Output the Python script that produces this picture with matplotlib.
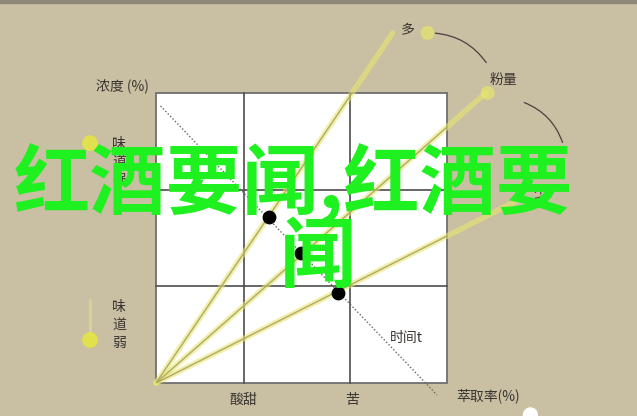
import matplotlib.pyplot as plt
from matplotlib.patches import Rectangle, FancyArrowPatch


# Box is 3 x 3 units, origin at its lower left corner.
GRID_X = [0.91, 2.0]
GRID_Y = [1.0, 2.0]

# Rays from the origin (many / medium / few grounds)
RAY_END_X = [2.44, 3.40, 3.75]
RAY_END_Y = [3.62, 3.00, 1.90]

# Extraction path over time
TIME_X = [0.047, 2.897]
TIME_Y = [2.865, -0.124]
DOT_X = [1.165, 1.495, 1.88]
DOT_Y = [1.717, 1.344, 0.93]

# Yellow markers on the left scale
SCALE_X = [-0.68, -0.68]
SCALE_Y = [2.48, 0.445]

BG = "#c9bfa3"
CJK = ["Noto Sans CJK SC", "DejaVu Sans"]
plt.rcParams["font.family"] = CJK

fig = plt.figure(figsize=(6.37, 4.16), dpi=100, facecolor=BG)
ax = fig.add_axes([0, 0, 1, 1])
ax.set_xlim(-156 / 97, 481 / 97)
ax.set_ylim(-33 / 96.7, 383 / 96.7)
ax.axis("off")

# top strip
ax.axhspan(3.925, 4.0, color="#8f887a", zorder=0)

# white box
box = Rectangle((0, 0), 3, 3, facecolor="white", edgecolor="#6f6f6f",
                linewidth=1.3, zorder=1)
ax.add_patch(box)
for x in GRID_X:
    ax.plot([x, x], [0, 3], color="#4d4d4d", linewidth=1.2, zorder=2)
for y in GRID_Y:
    ax.plot([0, 3], [y, y], color="#4d4d4d", linewidth=1.2, zorder=2)

# rays with a yellow glow
for x, y in zip(RAY_END_X, RAY_END_Y):
    ax.plot([0, x], [0, y], color="#e6e66e", linewidth=4, alpha=0.6,
            solid_capstyle="round", zorder=3)
    core, = ax.plot([0, x], [0, y], color="#b0aa6a", linewidth=1.0,
                    zorder=4)
    core.set_clip_path(box)

# yellow end markers
ax.scatter([RAY_END_X[0] + 0.36, RAY_END_X[1] + 0.02], [3.62, 3.0],
           s=100, color="#e6e66a", alpha=0.7, edgecolors="none", zorder=3)

# time line and dots
ax.plot(TIME_X, TIME_Y, color="#666666", linewidth=1,
        linestyle=(0, (1, 1.5)), zorder=5)
ax.scatter(DOT_X, DOT_Y, s=80, color="black", zorder=6)

# left scale
ax.plot([-0.68, -0.68], [0.45, 0.86], color="#e6e68a", linewidth=2,
        alpha=0.5, zorder=1)
ax.scatter(SCALE_X, SCALE_Y, s=130, color="#e6e640", alpha=0.85,
           edgecolors="none", zorder=2)

# arcs linking the ray labels
for start, end in [((2.85, 3.62), (3.42, 3.29)), ((3.77, 2.91), (4.20, 2.46))]:
    arc = FancyArrowPatch(start, end, arrowstyle="-",
                          connectionstyle="arc3,rad=-0.25",
                          color="#4a4040", linewidth=0.9, zorder=3)
    ax.add_patch(arc)

label_style = {"fontsize": 10, "color": "#3a3530", "ha": "center",
               "va": "center", "zorder": 7}
ax.text(-0.35, 3.06, "浓度 (%)", **label_style)
ax.text(-0.38, 2.285, "味\n道\n强", linespacing=1.35, **label_style)
ax.text(-0.38, 0.60, "味\n道\n弱", linespacing=1.35, **label_style)
ax.text(0.897, -0.176, "酸甜", **label_style)
ax.text(2.02, -0.176, "苦", **label_style)
ax.text(3.42, -0.134, "萃取率(%)", **label_style)
ax.text(2.577, 0.465, "时间t", **label_style)
ax.text(2.598, 3.65, "多", **label_style)
ax.text(3.577, 3.13, "粉量", **label_style)
ax.text(3.96, 1.965, "少", **label_style)

# watermark blob at the bottom
ax.scatter([3.86], [-0.33], s=120, color="white", edgecolors="none",
           zorder=7, clip_on=True)

# big overlay headline
green = "#1ff01f"
ax.text(-1.47, 2.06, "红酒要闻,红酒要", fontsize=55, fontweight="bold",
        color=green, ha="left", va="center", zorder=10)
ax.text(1.67, 1.29, "闻", fontsize=55, fontweight="bold",
        color=green, ha="center", va="center", zorder=10)

fig.savefig("out.png", dpi=100, facecolor=BG)
